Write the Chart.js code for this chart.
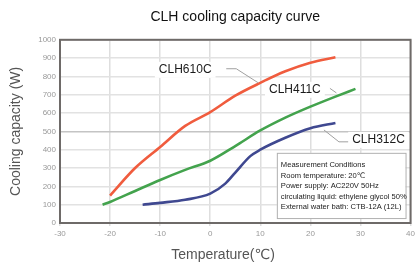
<!DOCTYPE html>
<html>
<head>
<meta charset="utf-8">
<script src="https://cdn.jsdelivr.net/npm/chart.js@4.4.0/dist/chart.umd.min.js"></script>
<style>
  body { margin: 0; background: #fff; }
  canvas { display: block; }
</style>
</head>
<body>
<canvas id="chart" width="418" height="266"></canvas>
<script>
// values
const redT = [-20, -15, -10, -5, 0, 5, 10, 15, 20, 25];
const redW = [150, 300, 415, 530, 605, 695, 765, 828, 875, 905];
const greenT = [-21.5, -20, -15, -10, -5, 0, 5, 10, 15, 20, 25, 29];
const greenW = [100, 115, 175, 235, 290, 340, 420, 505, 575, 635, 690, 732];
const blueT = [-13.5, -10, -5, 0, 3, 5, 8, 10, 15, 20, 25];
const blueW = [100, 110, 127, 160, 215, 275, 365, 400, 465, 517, 546];

const xTicks = [-30, -20, -10, 0, 10, 20, 30, 40];
const yTicks = [0, 100, 200, 300, 400, 500, 600, 700, 800, 900, 1000];
const seriesNames = ["CLH610C", "CLH411C", "CLH312C"];
const conditions = [
  "Measurement Conditions",
  "Room temperature: 20\u2103",
  "Power supply: AC220V 50Hz",
  "circulating liquid: ethylene glycol 50%",
  "External water bath: CTB-12A (12L)"
];

function pts(t, w) {
  return t.map((v, i) => ({ x: v, y: w[i] }));
}

const FONT = "'Liberation Sans', Arial, 'DejaVu Sans', sans-serif";

function line(label, data, color) {
  return {
    label: label,
    data: data,
    borderColor: color,
    borderWidth: 2.6,
    pointRadius: 0,
    fill: false,
    cubicInterpolationMode: 'monotone'
  };
}

const extras = {
  id: 'extras',
  beforeDatasetsDraw(chart) {
    const a = chart.chartArea, ctx = chart.ctx;
    ctx.save();
    ctx.strokeStyle = '#6e6a68';
    ctx.lineWidth = 2;
    ctx.strokeRect(a.left, a.top, a.right - a.left, a.bottom - a.top);
    ctx.restore();
  },
  afterDatasetsDraw(chart) {
    const ctx = chart.ctx;
    const xs = chart.scales.x, ys = chart.scales.y;
    const px = v => xs.getPixelForValue(v);
    const py = v => ys.getPixelForValue(v);
    ctx.save();

    // leader lines
    ctx.strokeStyle = '#a0a0a0';
    ctx.lineWidth = 1;
    const leaders = [
      [[3.2, 842], [5.2, 842], [9.6, 765]],
      [[23.9, 735], [25.2, 710]],
      [[22.7, 508], [25.7, 443], [28.3, 443]]
    ];
    leaders.forEach(l => {
      ctx.beginPath();
      l.forEach((p, i) => i ? ctx.lineTo(px(p[0]), py(p[1])) : ctx.moveTo(px(p[0]), py(p[1])));
      ctx.stroke();
    });

    // series labels
    const labelPos = [[-5, 836], [16.9, 727], [33.6, 454]];
    ctx.font = '12px ' + FONT;
    ctx.textAlign = 'center';
    ctx.textBaseline = 'middle';
    seriesNames.forEach((n, i) => {
      const x = px(labelPos[i][0]), y = py(labelPos[i][1]);
      const w = ctx.measureText(n).width;
      ctx.fillStyle = '#fff';
      ctx.fillRect(x - w / 2 - 4, y - 8, w + 8, 16);
      ctx.fillStyle = '#1a1a1a';
      ctx.fillText(n, x, y);
    });

    // conditions box
    const bx = px(13.3), by = py(383), bw = px(39) - bx, bh = py(27) - by;
    ctx.fillStyle = '#fff';
    ctx.fillRect(bx, by, bw, bh);
    ctx.strokeStyle = '#b0b0b0';
    ctx.lineWidth = 1;
    ctx.strokeRect(bx + 0.5, by + 0.5, bw, bh);
    ctx.font = '7.6px ' + FONT;
    ctx.textAlign = 'left';
    ctx.fillStyle = '#1a1a1a';
    conditions.forEach((t, i) => ctx.fillText(t, bx + 4, by + 12 + i * 10.6));

    // x axis title
    ctx.font = '14px ' + FONT;
    ctx.textAlign = 'center';
    ctx.fillStyle = '#555';
    ctx.fillText('Temperature(\u2103)', 223, 255);
    ctx.restore();
  }
};

new Chart(document.getElementById('chart'), {
  type: 'line',
  data: {
    datasets: [
      line(seriesNames[0], pts(redT, redW), '#f05c3e'),
      line(seriesNames[1], pts(greenT, greenW), '#43a34d'),
      line(seriesNames[2], pts(blueT, blueW), '#3f4890')
    ]
  },
  options: {
    responsive: false,
    animation: false,
    layout: { padding: { left: 0, right: 6, top: 0, bottom: 0 } },
    plugins: {
      legend: { display: false },
      tooltip: { enabled: false },
      title: {
        display: true,
        fullSize: false,
        text: 'CLH cooling capacity curve',
        color: '#111',
        font: { family: FONT, size: 14, weight: 'normal' },
        padding: { top: 9, bottom: 14 }
      }
    },
    scales: {
      x: {
        type: 'linear',
        min: -30,
        max: 40,
        afterBuildTicks: s => { s.ticks = xTicks.map(v => ({ value: v })); },
        afterFit: s => { s.height = 43; },
        ticks: { color: '#999', font: { family: FONT, size: 8 }, maxRotation: 0, padding: 3, callback: v => String(v) },
        grid: { color: '#dedede', lineWidth: 1.5, tickLength: 3 },
        border: { display: false }
      },
      y: {
        min: 0,
        max: 1000,
        afterBuildTicks: s => { s.ticks = yTicks.map(v => ({ value: v })); },
        afterFit: s => { s.width = 60; },
        ticks: { color: '#999', font: { family: FONT, size: 8 }, padding: 4, callback: v => String(v) },
        grid: {
          color: c => c.tick && c.tick.value === 500 ? '#c4c4c4' : '#e2e2e2',
          lineWidth: 1.5,
          tickLength: 0
        },
        border: { display: false },
        title: {
          display: true,
          text: 'Cooling capacity (W)',
          color: '#555',
          font: { family: FONT, size: 14 },
          padding: { top: 8, bottom: 0 }
        }
      }
    }
  },
  plugins: [extras]
});
</script>
</body>
</html>
